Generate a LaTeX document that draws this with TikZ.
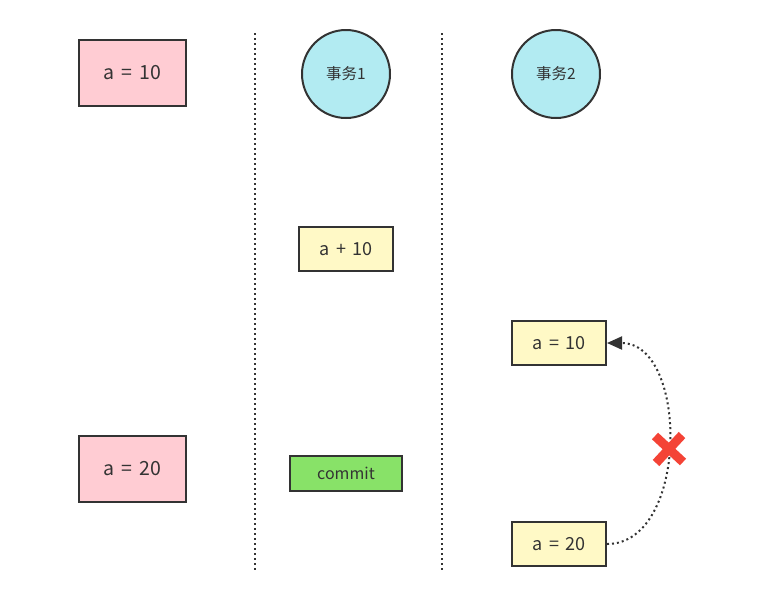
\documentclass[tikz,border=0pt]{standalone}
\usepackage{fontspec}
\setmainfont[WordSpace=1.6]{Noto Sans CJK SC}
\usetikzlibrary{arrows.meta}
\definecolor{boxline}{HTML}{333333}
\definecolor{pinkfill}{HTML}{FFCCD3}
\definecolor{yellowfill}{HTML}{FFF9C6}
\definecolor{cyanfill}{HTML}{B2EBF2}
\definecolor{greenfill}{HTML}{88E268}
\definecolor{crossred}{HTML}{F44336}
\begin{document}
\begin{tikzpicture}[x=1pt,y=-1pt,
  valbox/.style={draw=boxline,line width=2pt,fill=pinkfill,minimum width=107pt,minimum height=66pt,font=\fontsize{19.5}{22}\selectfont,text=boxline},
  opbox/.style={draw=boxline,line width=2pt,fill=yellowfill,minimum width=94pt,minimum height=44pt,font=\fontsize{18}{20}\selectfont,text=boxline},
  txcircle/.style={draw=boxline,line width=2pt,fill=cyanfill,circle,minimum size=88pt,font=\fontsize{15.5}{18}\selectfont,text=boxline},
  lane/.style={boxline,line width=2pt,dash pattern=on 2pt off 3pt}]
\useasboundingbox (0,0) rectangle (765,614);
% lanes
\draw[lane](255,33)--(255,572);
\draw[lane](442,33)--(442,572);
% data column
\node[valbox] (a10) at (132.5,73) {a = 10};
\node[valbox] (a20) at (132.5,468.5) {a = 20};
% transaction 1
\node[txcircle] (tx1) at (346,74) {事务1};
\node[opbox] (add) at (346,249) {a + 10};
\node[draw=boxline,line width=2pt,fill=greenfill,minimum width=112pt,minimum height=35pt,font=\fontsize{16}{18}\selectfont,text=boxline] (commit) at (346,473.5) {commit};
% transaction 2
\node[txcircle] (tx2) at (556,74) {事务2};
\node[opbox] (read1) at (559,343) {a = 10};
\node[opbox] (read2) at (559,544) {a = 20};
\draw[boxline,line width=2pt,dash pattern=on 2pt off 3pt,-{Triangle[length=15pt,width=13pt]}]
  (read2.east) .. controls (689,544) and (689,343) .. (read1.east);
% cross
\coordinate (x) at (669,449);
\draw[crossred,line width=9pt] ([shift={(-14,-13)}]x)--([shift={(14,13)}]x);
\draw[crossred,line width=9pt] ([shift={(13,-14)}]x)--([shift={(-13,14)}]x);
\end{tikzpicture}
\end{document}
